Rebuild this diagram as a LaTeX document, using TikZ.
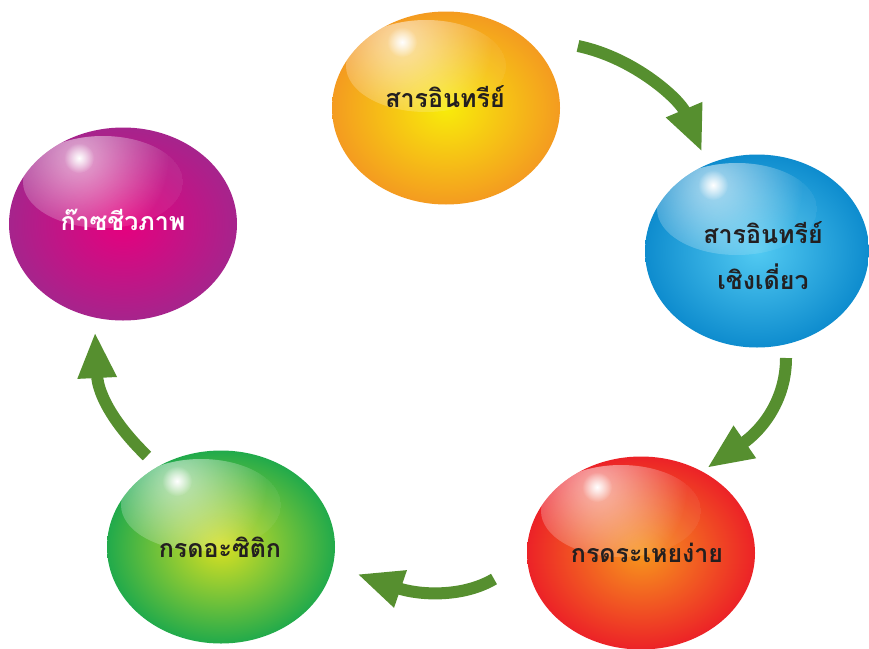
\documentclass[tikz,border=0pt]{standalone}
\usepackage{fontspec}
\newfontfamily\thaifont[Script=Thai]{Loma}
\usetikzlibrary{shapes.geometric,arrows.meta,fadings}

\definecolor{orangeout}{RGB}{244,155,32}
\definecolor{orangein}{RGB}{248,236,10}
\definecolor{blueout}{RGB}{14,140,206}
\definecolor{bluein}{RGB}{82,202,242}
\definecolor{redout}{RGB}{236,34,39}
\definecolor{redin}{RGB}{247,150,29}
\definecolor{greenout}{RGB}{33,170,75}
\definecolor{greenin}{RGB}{216,224,35}
\definecolor{purpleout}{RGB}{166,36,140}
\definecolor{purplein}{RGB}{230,0,126}
\definecolor{textdark}{RGB}{35,31,32}
\definecolor{arrowgreen}{RGB}{86,143,47}

% soft white reflections on the balls
\tikzfading[name=spotfade, inner color=transparent!0, outer color=transparent!100]

\tikzset{
  ball/.style 2 args={ellipse, minimum width=228pt, minimum height=193pt,
    inner sep=0pt, outer color=#1, inner color=#2,
    path picture={
      \coordinate (gloss-c) at ([shift={(-20,-42)}]path picture bounding box.center);
      \coordinate (spot-c) at ([shift={(-44,-66)}]path picture bounding box.center);
      \begin{scope}
        \clip (gloss-c) ellipse [x radius=80, y radius=46];
        \fill[white, opacity=0.06] (gloss-c) ellipse [x radius=80, y radius=46];
        \fill[white, opacity=0.6, path fading=spotfade] (spot-c) circle [radius=90];
      \end{scope}
      \fill[white, path fading=spotfade] (spot-c) circle [radius=15];
    }},
  balltext/.style={font=\thaifont\bfseries\fontsize{25}{46}\selectfont,
    text=textdark, align=center, inner sep=0pt},
  arr/.style={draw=arrowgreen, line width=12pt,
    -{Triangle[width=36pt,length=46pt]}},
}

\begin{document}
\begin{tikzpicture}[x=1pt,y=-1pt]
\useasboundingbox (0,0) rectangle (869,648);
\fill[white] (0,0) rectangle (869,648);

% the five balls of the cycle
\node[ball={orangeout}{orangein}] (organic) at (446,108) {};
\node[ball={blueout}{bluein}, minimum width=224pt] (single) at (757,251) {};
\node[ball={redout}{redin}] (volatile) at (641,553) {};
\node[ball={greenout}{greenin}] (acetic) at (221,547) {};
\node[ball={purpleout}{purplein}] (biogas) at (123,224) {};

\node[balltext] (organic-t) at (445,97) {สารอินทรีย์};
\node[balltext] (single-t) at (763,256) {สารอินทรีย์\\เชิงเดี่ยว};
\node[balltext] (volatile-t) at (647,553) {กรดระเหยง่าย};
\node[balltext] (acetic-t) at (220,547) {กรดอะซิติก};
\node[balltext, text=white] (biogas-t) at (123,220) {ก๊าซชีวภาพ};

% end points of the curved arrows
\coordinate (a1s) at (578,46);
\coordinate (a1e) at (702,152);
\coordinate (a2s) at (786,358);
\coordinate (a2e) at (707,468);
\coordinate (a3s) at (494,579);
\coordinate (a3e) at (357,574);
\coordinate (a4s) at (147,456);
\coordinate (a4e) at (95,332);

\draw[arr] (a1s) .. controls (635,58) and (680,100) .. (a1e);
\draw[arr] (a2s) .. controls (786,400) and (762,430) .. (a2e);
\draw[arr] (a3s) .. controls (462,598) and (418,595) .. (a3e);
\draw[arr] (a4s) .. controls (115,425) and (98,395) .. (a4e);
\end{tikzpicture}
\end{document}
